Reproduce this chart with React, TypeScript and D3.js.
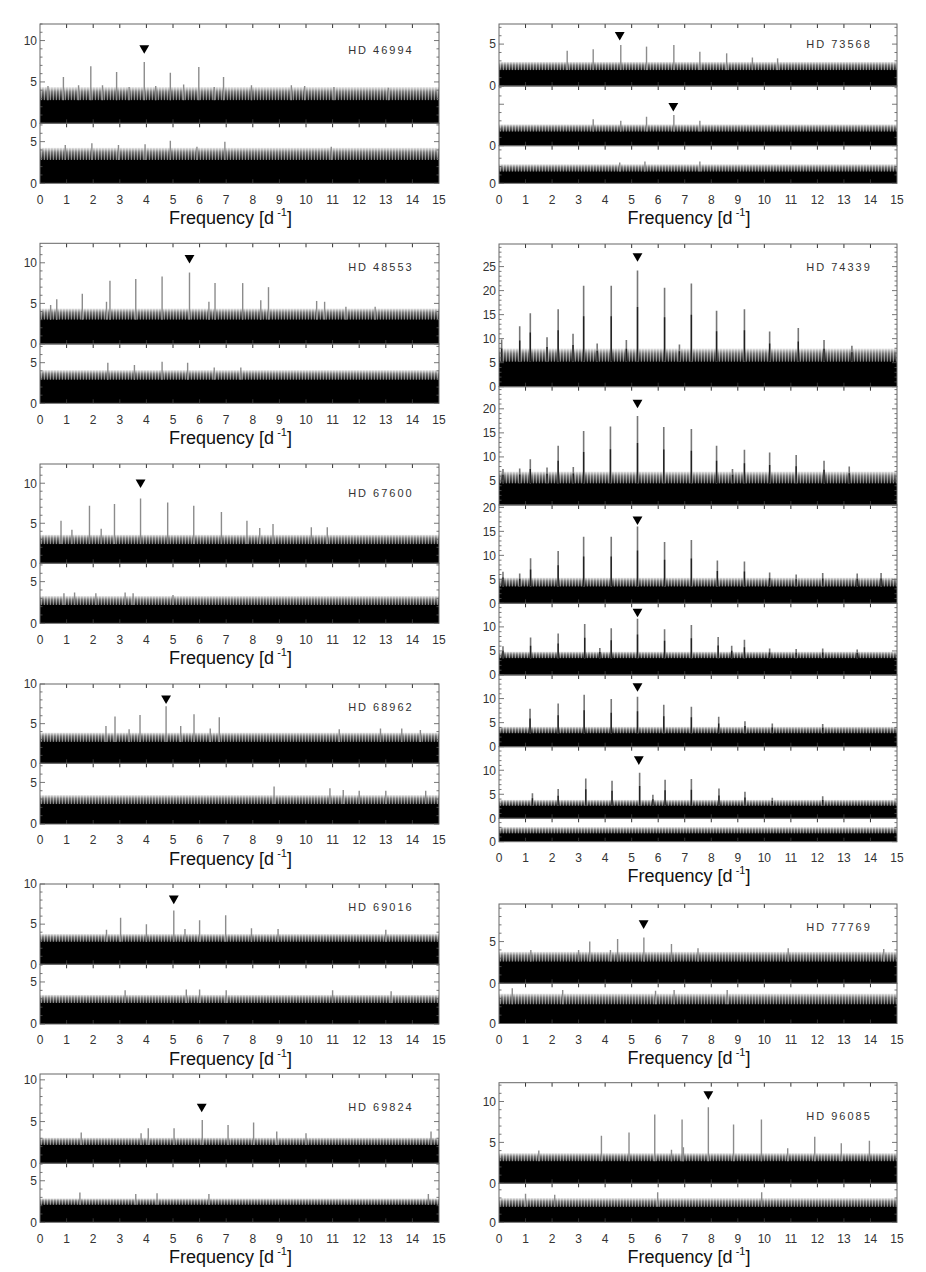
import React from "react";
import * as d3 from "d3";

// ---------------- DATA ----------------
// peaks: [frequency (d^-1), amplitude]; noise: [solid level, upper fringe level]; marker: [frequency, amplitude]
const FREQ_TICKS = d3.range(0, 16);

const HD46994_TOP_PEAKS = [[0.88,5.6],[1.91,6.9],[2.88,6.2],[3.92,7.4],[4.9,6.1],[5.97,6.8],[6.9,5.6],[0.3,4.5],[1.45,4.6],[2.35,4.6],[3.35,4.4],[4.35,4.5],[5.4,4.7],[6.55,4.4],[7.95,4.6],[9.45,4.6],[9.95,4.5],[11.05,4.4],[13.1,4.3]];
const HD46994_TOP_NOISE = [2.8, 4.4];
const HD46994_MARK = [3.92, 9.1];
const HD46994_BOT_PEAKS = [[0.95,4.6],[1.95,4.8],[2.95,4.6],[3.95,4.7],[4.9,5.1],[6.95,5.0],[5.9,4.4],[10.95,4.4]];
const HD46994_BOT_NOISE = [2.8, 4.3];

const HD48553_TOP_PEAKS = [[0.63,5.5],[1.59,6.2],[2.63,7.8],[3.6,8.0],[4.59,8.3],[5.62,8.8],[6.58,7.5],[7.62,7.5],[8.59,7.0],[0.4,4.8],[2.5,5.2],[6.35,5.2],[8.3,5.4],[10.4,5.3],[10.7,5.2],[11.5,4.6],[12.6,4.6]];
const HD48553_TOP_NOISE = [3.0, 4.4];
const HD48553_MARK = [5.62, 10.6];
const HD48553_BOT_PEAKS = [[2.55,5.0],[3.55,4.7],[4.59,5.1],[5.55,5.0],[6.55,4.4],[7.55,4.4]];
const HD48553_BOT_NOISE = [2.9, 4.1];

const HD67600_TOP_PEAKS = [[0.79,5.3],[1.86,7.2],[2.8,7.4],[3.78,8.1],[4.8,7.6],[5.78,7.2],[6.82,6.4],[7.78,5.3],[8.26,4.4],[8.76,4.9],[10.2,4.5],[10.8,4.5],[2.3,4.3],[1.2,4.2]];
const HD67600_TOP_NOISE = [2.4, 3.6];
const HD67600_MARK = [3.78, 10.1];
const HD67600_BOT_PEAKS = [[0.9,3.6],[1.3,3.7],[2.1,3.6],[3.2,3.7],[3.5,3.6],[5.0,3.4]];
const HD67600_BOT_NOISE = [2.2, 3.3];

const HD68962_TOP_PEAKS = [[2.82,5.9],[3.76,6.1],[4.74,7.2],[5.79,6.2],[6.74,5.8],[2.48,4.7],[5.29,4.7],[3.35,4.3],[6.4,4.4],[11.25,4.3],[12.8,4.4],[13.6,4.4],[14.3,4.2]];
const HD68962_TOP_NOISE = [2.7, 3.9];
const HD68962_MARK = [4.74, 8.2];
const HD68962_BOT_PEAKS = [[8.8,4.5],[10.9,4.3],[11.4,4.1],[12.0,4.0],[13.0,4.0],[14.5,4.0]];
const HD68962_BOT_NOISE = [2.4, 3.5];

const HD69016_TOP_PEAKS = [[3.03,5.8],[4.0,5.0],[5.03,6.7],[6.0,5.5],[6.98,6.1],[5.45,4.4],[7.95,4.5],[8.95,4.4],[13.0,4.3],[2.5,4.3]];
const HD69016_TOP_NOISE = [2.8, 3.8];
const HD69016_MARK = [5.03, 8.2];
const HD69016_BOT_PEAKS = [[3.2,4.0],[5.5,4.1],[6.0,4.1],[7.0,4.0],[11.0,4.0],[13.2,3.9]];
const HD69016_BOT_NOISE = [2.5, 3.5];

const HD69824_TOP_PEAKS = [[4.07,4.2],[5.04,4.2],[6.1,5.2],[7.07,4.6],[8.03,4.9],[1.55,3.7],[3.8,3.6],[8.9,3.8],[10.0,3.6],[14.7,3.8]];
const HD69824_TOP_NOISE = [2.2, 3.1];
const HD69824_MARK = [6.08, 6.8];
const HD69824_BOT_PEAKS = [[1.5,3.6],[3.6,3.4],[4.4,3.5],[6.35,3.4],[14.6,3.4]];
const HD69824_BOT_NOISE = [2.1, 2.9];

const HD73568_A_PEAKS = [[2.57,4.2],[3.55,4.4],[4.59,4.9],[5.56,4.7],[6.59,4.9],[7.57,4.1],[8.58,3.9],[9.55,3.4],[10.5,3.3]];
const HD73568_A_NOISE = [1.9, 2.9];
const HD73568_A_MARK = [4.55, 6.1];
const HD73568_B_PEAKS = [[3.55,3.2],[4.59,3.0],[5.56,3.5],[6.59,3.7],[7.57,3.0]];
const HD73568_B_NOISE = [1.7, 2.6];
const HD73568_B_MARK = [6.57, 4.8];
const HD73568_C_PEAKS = [[5.5,2.6],[7.57,2.6],[4.55,2.5]];
const HD73568_C_NOISE = [1.4, 2.3];

const HD74339_1_PEAKS = [[0.1,9.8],[0.78,12.6],[1.18,15.3],[1.81,10.3],[2.23,16.1],[2.79,11.0],[3.19,21.0],[3.7,9.0],[4.23,21.0],[4.8,9.7],[5.22,24.2],[6.24,20.6],[6.8,8.8],[7.25,21.5],[8.2,15.8],[9.25,16.1],[10.2,11.5],[11.28,12.2],[12.25,9.7],[13.3,8.5]];
const HD74339_1_NOISE = [5.2, 8.0];
const HD74339_1_MARK = [5.22, 27.2];
const HD74339_2_PEAKS = [[0.15,7.5],[0.78,7.6],[1.18,9.5],[1.81,7.8],[2.23,12.3],[2.8,7.9],[3.19,15.4],[4.2,16.3],[5.22,18.5],[6.21,16.2],[7.25,15.8],[8.2,12.3],[8.8,7.5],[9.25,11.5],[10.2,10.9],[11.2,10.4],[12.25,9.2],[13.2,8.0]];
const HD74339_2_NOISE = [4.5, 7.0];
const HD74339_2_MARK = [5.22, 21.3];
const HD74339_3_PEAKS = [[0.15,6.6],[0.78,6.2],[1.19,9.4],[2.23,10.9],[3.19,13.9],[4.23,13.9],[5.22,16.0],[6.24,12.8],[7.25,13.2],[8.23,8.9],[9.25,8.7],[10.2,6.4],[11.2,6.0],[12.2,6.3],[13.5,6.2],[14.4,6.3]];
const HD74339_3_NOISE = [3.5, 5.4];
const HD74339_3_MARK = [5.22, 17.5];
const HD74339_4_PEAKS = [[0.15,6.0],[1.19,7.8],[2.23,8.6],[3.23,10.6],[3.8,5.6],[4.23,9.7],[5.22,11.7],[6.24,9.5],[7.25,10.4],[8.26,7.9],[8.77,6.1],[9.25,7.3],[10.2,5.5],[11.2,5.4],[12.2,5.5],[13.5,5.3]];
const HD74339_4_NOISE = [3.5, 4.9];
const HD74339_4_MARK = [5.22, 13.2];
const HD74339_5_PEAKS = [[1.17,7.9],[2.23,9.0],[3.21,10.8],[4.23,9.9],[5.22,10.4],[6.21,8.7],[7.25,8.3],[8.28,6.2],[9.27,5.3],[10.3,4.8],[12.2,4.7]];
const HD74339_5_NOISE = [2.8, 4.2];
const HD74339_5_MARK = [5.22, 12.6];
const HD74339_6_PEAKS = [[1.26,5.2],[2.23,6.1],[3.27,8.3],[4.26,7.8],[5.3,9.5],[5.8,4.9],[6.26,8.0],[7.25,8.2],[8.29,6.2],[9.27,5.5],[10.3,4.3],[12.2,4.6]];
const HD74339_6_NOISE = [2.6, 3.9];
const HD74339_6_MARK = [5.27, 12.3];
const HD74339_7_PEAKS: number[][] = [];
const HD74339_7_NOISE = [1.75, 3.1];

const HD77769_TOP_PEAKS = [[3.42,5.0],[4.47,5.3],[5.46,5.5],[6.5,4.7],[4.2,4.0],[7.5,4.2],[10.9,4.2],[14.5,4.1],[1.2,4.0],[3.0,4.0]];
const HD77769_TOP_NOISE = [2.6, 3.8];
const HD77769_MARK = [5.45, 7.2];
const HD77769_BOT_PEAKS = [[0.5,4.2],[2.4,4.0],[5.9,3.9],[6.6,4.0],[8.6,4.0]];
const HD77769_BOT_NOISE = [2.3, 3.6];

const HD96085_TOP_PEAKS = [[3.86,5.8],[4.9,6.2],[5.87,8.4],[6.9,7.8],[7.89,9.3],[8.84,7.2],[9.89,7.8],[10.88,4.3],[11.9,5.7],[12.9,4.9],[13.96,5.2],[1.5,4.0],[6.5,4.1],[6.95,4.4]];
const HD96085_TOP_NOISE = [2.7, 3.7];
const HD96085_MARK = [7.89, 10.9];
const HD96085_BOT_PEAKS = [[1.0,3.5],[5.98,3.7],[9.9,3.7],[2.1,3.4]];
const HD96085_BOT_NOISE = [1.9, 3.0];

// ---------------- LAYOUT ----------------
type Sub = { y0: number; y1: number; max: number; labels: number[]; peaks: number[][]; noise: number[]; marker?: number[] };
type Panel = { name: string; col: number; nameY: number; bold?: boolean; subs: Sub[] };

const COLS = [{ x0: 40, x1: 439 }, { x0: 499, x1: 897 }];

const panels: Panel[] = [
  { name: "HD 46994", col: 0, nameY: 50, subs: [
    { y0: 24, y1: 123.3, max: 12, labels: [0, 5, 10], peaks: HD46994_TOP_PEAKS, noise: HD46994_TOP_NOISE, marker: HD46994_MARK },
    { y0: 123.3, y1: 183.3, max: 7.2, labels: [0, 5], peaks: HD46994_BOT_PEAKS, noise: HD46994_BOT_NOISE } ] },
  { name: "HD 48553", col: 0, nameY: 266.7, subs: [
    { y0: 243.3, y1: 344, max: 12.4, labels: [0, 5, 10], peaks: HD48553_TOP_PEAKS, noise: HD48553_TOP_NOISE, marker: HD48553_MARK },
    { y0: 344, y1: 403.3, max: 7.3, labels: [0, 5], peaks: HD48553_BOT_PEAKS, noise: HD48553_BOT_NOISE } ] },
  { name: "HD 67600", col: 0, nameY: 492.7, subs: [
    { y0: 464, y1: 563.3, max: 12.4, labels: [0, 5, 10], peaks: HD67600_TOP_PEAKS, noise: HD67600_TOP_NOISE, marker: HD67600_MARK },
    { y0: 563.3, y1: 623.3, max: 7.2, labels: [0, 5], peaks: HD67600_BOT_PEAKS, noise: HD67600_BOT_NOISE } ] },
  { name: "HD 68962", col: 0, nameY: 706.7, subs: [
    { y0: 684, y1: 763.3, max: 10, labels: [0, 5, 10], peaks: HD68962_TOP_PEAKS, noise: HD68962_TOP_NOISE, marker: HD68962_MARK },
    { y0: 763.3, y1: 824, max: 7.3, labels: [0, 5], peaks: HD68962_BOT_PEAKS, noise: HD68962_BOT_NOISE } ] },
  { name: "HD 69016", col: 0, nameY: 906.7, subs: [
    { y0: 884, y1: 964.3, max: 10, labels: [0, 5, 10], peaks: HD69016_TOP_PEAKS, noise: HD69016_TOP_NOISE, marker: HD69016_MARK },
    { y0: 964.3, y1: 1024, max: 7.1, labels: [0, 5], peaks: HD69016_BOT_PEAKS, noise: HD69016_BOT_NOISE } ] },
  { name: "HD 69824", col: 0, nameY: 1107.3, subs: [
    { y0: 1074, y1: 1163.3, max: 10.7, labels: [0, 5, 10], peaks: HD69824_TOP_PEAKS, noise: HD69824_TOP_NOISE, marker: HD69824_MARK },
    { y0: 1163.3, y1: 1222.3, max: 7.1, labels: [0, 5], peaks: HD69824_BOT_PEAKS, noise: HD69824_BOT_NOISE } ] },
  { name: "HD 73568", col: 1, nameY: 44, subs: [
    { y0: 24, y1: 86, max: 7.4, labels: [0, 5], peaks: HD73568_A_PEAKS, noise: HD73568_A_NOISE, marker: HD73568_A_MARK },
    { y0: 86, y1: 145.7, max: 7.2, labels: [0], peaks: HD73568_B_PEAKS, noise: HD73568_B_NOISE, marker: HD73568_B_MARK },
    { y0: 145.7, y1: 183.3, max: 4.5, labels: [0], peaks: HD73568_C_PEAKS, noise: HD73568_C_NOISE } ] },
  { name: "HD 74339", col: 1, nameY: 267, bold: true, subs: [
    { y0: 244, y1: 386.7, max: 29.7, labels: [0, 5, 10, 15, 20, 25], peaks: HD74339_1_PEAKS, noise: HD74339_1_NOISE, marker: HD74339_1_MARK },
    { y0: 386.7, y1: 505, max: 24.6, labels: [5, 10, 15, 20], peaks: HD74339_2_PEAKS, noise: HD74339_2_NOISE, marker: HD74339_2_MARK },
    { y0: 505, y1: 603.3, max: 20.5, labels: [0, 5, 10, 15, 20], peaks: HD74339_3_PEAKS, noise: HD74339_3_NOISE, marker: HD74339_3_MARK },
    { y0: 603.3, y1: 675, max: 14.9, labels: [0, 5, 10], peaks: HD74339_4_PEAKS, noise: HD74339_4_NOISE, marker: HD74339_4_MARK },
    { y0: 675, y1: 746.7, max: 14.9, labels: [0, 5, 10], peaks: HD74339_5_PEAKS, noise: HD74339_5_NOISE, marker: HD74339_5_MARK },
    { y0: 746.7, y1: 818.3, max: 14.9, labels: [0, 5, 10], peaks: HD74339_6_PEAKS, noise: HD74339_6_NOISE, marker: HD74339_6_MARK },
    { y0: 818.3, y1: 841.7, max: 4.9, labels: [0], peaks: HD74339_7_PEAKS, noise: HD74339_7_NOISE } ] },
  { name: "HD 77769", col: 1, nameY: 927, subs: [
    { y0: 904, y1: 983.3, max: 9.5, labels: [0, 5], peaks: HD77769_TOP_PEAKS, noise: HD77769_TOP_NOISE, marker: HD77769_MARK },
    { y0: 983.3, y1: 1023.5, max: 4.8, labels: [0], peaks: HD77769_BOT_PEAKS, noise: HD77769_BOT_NOISE } ] },
  { name: "HD 96085", col: 1, nameY: 1116, subs: [
    { y0: 1082.7, y1: 1183.3, max: 12.3, labels: [0, 5, 10], peaks: HD96085_TOP_PEAKS, noise: HD96085_TOP_NOISE, marker: HD96085_MARK },
    { y0: 1183.3, y1: 1222.3, max: 4.8, labels: [0], peaks: HD96085_BOT_PEAKS, noise: HD96085_BOT_NOISE } ] },
];

const FONT = "'Liberation Sans', Arial, Helvetica, sans-serif";
const TXT = "#333";
const FRAME = "#666";

const markerPath = d3.symbol().type(d3.symbolTriangle).size(42)() as string;

function SubPlot({ s, x, x0, x1, id, bold }: { s: Sub; x: d3.ScaleLinear<number, number>; x0: number; x1: number; id: string; bold?: boolean }) {
  const y = d3.scaleLinear().domain([0, s.max]).range([s.y1, s.y0]);
  const minor = d3.range(0, Math.floor(s.max) + 1);
  const clip = `clip-${id}`;
  return (
    <g>
      <clipPath id={clip}><rect x={x0} y={s.y0} width={x1 - x0} height={s.y1 - s.y0} /></clipPath>
      <g clipPath={`url(#${clip})`}>
        <rect x={x0} y={y(s.noise[1])} width={x1 - x0} height={y(s.noise[0]) - y(s.noise[1]) + 1} fill="url(#stripes)" mask="url(#fade)" />
        <rect x={x0} y={y(s.noise[0])} width={x1 - x0} height={y(0) - y(s.noise[0])} fill="#000" />
        {s.peaks.map((p, i) => (
          <line key={i} x1={x(p[0])} x2={x(p[0])} y1={y(s.noise[0])} y2={y(p[1])} stroke={bold ? "#777" : "#8c8c8c"} strokeWidth={bold ? 1.6 : 1.4} />
        ))}
        {bold && s.peaks.map((p, i) => (
          <line key={"d" + i} x1={x(p[0])} x2={x(p[0])} y1={y(s.noise[0])} y2={y(s.noise[0] + (p[1] - s.noise[0]) * 0.6)} stroke="#222" strokeWidth={1.4} />
        ))}
      </g>
      {s.marker && (
        <path d={markerPath} transform={`translate(${x(s.marker[0])},${y(s.marker[1])}) rotate(180)`} fill="#000" />
      )}
      {FREQ_TICKS.slice(1, 15).map((f) => (
        <g key={"xt" + f}>
          <line x1={x(f)} x2={x(f)} y1={s.y0} y2={s.y0 + 4} stroke="#333" strokeWidth={1} />
          <line x1={x(f)} x2={x(f)} y1={s.y1} y2={s.y1 - 4} stroke="#333" strokeWidth={1} />
        </g>
      ))}
      {minor.map((v) => {
        const len = v % 5 === 0 ? 5 : 2.5;
        return (
          <g key={"yt" + v}>
            <line x1={x0} x2={x0 + len} y1={y(v)} y2={y(v)} stroke="#555" strokeWidth={0.8} />
            <line x1={x1} x2={x1 - len} y1={y(v)} y2={y(v)} stroke="#555" strokeWidth={0.8} />
          </g>
        );
      })}
      <rect x={x0} y={s.y0} width={x1 - x0} height={s.y1 - s.y0} fill="none" stroke={FRAME} strokeWidth={1} />
      {s.labels.map((v) => (
        <text key={"yl" + v} x={x0 - 3} y={y(v)} dy={4.3} textAnchor="end" fontSize={12} fontFamily={FONT} fill={TXT}>{v}</text>
      ))}
    </g>
  );
}

export default function App() {
  return (
    <svg width={926} height={1272} viewBox="0 0 926 1272" style={{ position: "absolute", left: 0, top: 0, background: "#fff" }}>
      <defs>
        <linearGradient id="fadeGrad" x1="0" y1="0" x2="0" y2="1">
          <stop offset="0%" stopColor="#111" />
          <stop offset="35%" stopColor="#888" />
          <stop offset="100%" stopColor="#fff" />
        </linearGradient>
        <mask id="fade" maskContentUnits="objectBoundingBox">
          <rect x={0} y={0} width={1} height={1} fill="url(#fadeGrad)" />
        </mask>
        <pattern id="stripes" patternUnits="userSpaceOnUse" width={3} height={10}>
          <rect x={0} y={0} width={3} height={10} fill="#2a2a2a" />
          <rect x={0} y={0} width={1.5} height={10} fill="#000" />
          <rect x={2} y={0} width={1} height={10} fill="#7a7a7a" />
        </pattern>
      </defs>
      <rect x={0} y={0} width={926} height={1272} fill="#fff" />
      {panels.map((p, pi) => {
        const { x0, x1 } = COLS[p.col];
        const x = d3.scaleLinear().domain([0, 15]).range([x0, x1]);
        const bottom = p.subs[p.subs.length - 1].y1;
        const cx = (x0 + x1) / 2 - 9;
        return (
          <g key={p.name}>
            {p.subs.map((s, si) => (
              <SubPlot key={si} s={s} x={x} x0={x0} x1={x1} id={`p${pi}s${si}`} bold={p.bold} />
            ))}
            <text x={x(14.05)} y={p.nameY} dy={4} textAnchor="end" fontSize={11} letterSpacing={2} fontFamily={FONT} fill={TXT}>{p.name}</text>
            {FREQ_TICKS.map((f) => (
              <text key={f} x={x(f)} y={bottom + 20.3} textAnchor="middle" fontSize={12} fontFamily={FONT} fill={TXT}>{f}</text>
            ))}
            <text x={cx} y={bottom + 40.5} textAnchor="middle" fontSize={18} fontFamily={FONT} fill="#111">
              Frequency [d<tspan fontSize={11} dy={-8}> -1</tspan><tspan dy={8}>]</tspan>
            </text>
          </g>
        );
      })}
    </svg>
  );
}
